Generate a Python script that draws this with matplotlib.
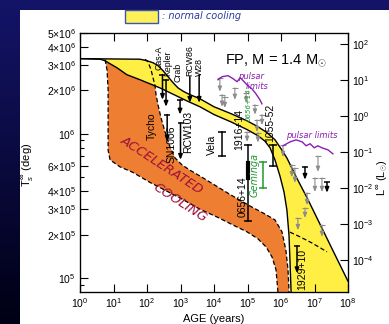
import numpy as np
import matplotlib
matplotlib.use('Agg')
import matplotlib.pyplot as plt
from matplotlib.patches import Rectangle
from matplotlib.colors import LinearSegmentedColormap
from matplotlib.ticker import FixedLocator, NullFormatter, FixedFormatter

plt.rcParams['font.family'] = ['Liberation Sans', 'DejaVu Sans']
plt.rcParams['mathtext.fontset'] = 'custom'
plt.rcParams['mathtext.rm'] = 'Liberation Sans'
plt.rcParams['mathtext.it'] = 'Liberation Sans:italic'
plt.rcParams['mathtext.bf'] = 'Liberation Sans:bold'

# ---------------- data ----------------
# normal cooling band (solid curves)
upper_age = [1, 62, 100, 151, 213, 300, 424, 600, 845, 1260, 1900, 3800, 1e4, 3.2e4,
             9.7e4, 2.05e5, 3.8e5, 6.6e5, 1.07e6, 1.5e6, 3.0e6, 6.0e6, 1.45e7, 3.6e7, 1e8]
upper_T = [3.32e6, 3.29e6, 3.21e6, 3.11e6, 2.97e6, 2.74e6, 2.49e6, 2.26e6, 2.08e6, 1.96e6,
           1.87e6, 1.75e6, 1.54e6, 1.38e6, 1.23e6, 1.12e6, 1.02e6, 9.1e5, 7.7e5, 6.8e5,
           4.9e5, 3.6e5, 2.37e5, 1.54e5, 9.5e4]
lower_age = [1, 4, 5.6, 7.9, 12.7, 25, 62, 245, 1560, 3800, 1e4, 3.2e4, 9.7e4, 2.05e5,
             3.3e5, 4.7e5, 6.6e5, 9.3e5, 1.23e6, 1.5e6, 1.73e6, 1.85e6, 2.0e6]
lower_T = [3.32e6, 3.29e6, 3.21e6, 3.06e6, 2.87e6, 2.57e6, 2.37e6, 2.08e6, 1.69e6, 1.54e6,
           1.36e6, 1.21e6, 1.07e6, 9.7e5, 8.9e5, 8.0e5, 6.6e5, 5.1e5, 3.95e5, 2.96e5,
           1.99e5, 1.33e5, 8.0e4]

# accelerated cooling band
acc_top_age = [5.6, 7.9, 12.7, 25, 62, 123, 174, 186, 213, 262, 346, 487, 686, 1100, 1900,
               3800, 1.07e4, 3.0e4, 1.18e5, 3.3e5, 6.6e5, 1.07e6, 1.4e6, 1.62e6, 1.74e6]
acc_top_T = [3.27e6, 3.06e6, 2.87e6, 2.57e6, 2.37e6, 2.22e6, 2.15e6, 1.87e6, 1.59e6, 1.29e6,
             1.03e6, 8.1e5, 6.8e5, 6.1e5, 5.6e5, 5.1e5, 4.4e5, 3.8e5, 3.16e5, 2.78e5,
             2.53e5, 2.09e5, 1.56e5, 1.14e5, 8.0e4]
acc_bot_age = [5.6, 6.4, 6.9, 6.9, 6.9, 7.9, 15.6, 38, 123, 394, 1180, 3800, 1.23e4, 3.7e4,
               9.7e4, 2.05e5, 3.6e5, 5.4e5, 7.1e5, 8.1e5]
acc_bot_T = [3.27e6, 2.78e6, 2.02e6, 1.25e6, 7.7e5, 6.6e5, 5.9e5, 5.4e5, 4.6e5, 4.0e5,
             3.5e5, 3.0e5, 2.65e5, 2.33e5, 2.09e5, 1.87e5, 1.64e5, 1.40e5, 1.14e5, 8.0e4]
cross_age = [87, 107, 132, 151, 174]
cross_T = [3.29e6, 3.16e6, 2.78e6, 2.45e6, 2.15e6]
rdash_age = [1.85e6, 3.7e6, 8.4e6, 2.36e7]
rdash_T = [2.08e5, 1.93e5, 1.75e5, 1.52e5]

# black upper limits: age, top (cap), arrow tip, has cap
blk_age = [290, 370, 970, 1900, 3600, 400, 1000, 3.0e6, 5.2e6, 2.36e7]
blk_top = [2.57e6, 2.37e6, 1.72e6, 2.49e6, 2.57e6, 1.36e6, 1.19e6, 1.67e5, 5.9e5, 4.6e5]
blk_tip = [1.72e6, 1.54e6, 1.36e6, 1.64e6, 1.64e6, 8.8e5, 6.6e5, 1.08e5, 4.8e5, 3.9e5]
blk_cap = [True, True, True, False, False, True, True, True, True, True]

# black error bars
eb_age = [1.74e4, 1.03e5, 5.8e5]
eb_lo = [7.0e5, 2.49e5, 6.0e5]
eb_hi = [1.03e6, 8.4e5, 8.4e5]
thick_age = [1.03e5]
thick_lo = [4.9e5]
thick_hi = [6.3e5]

# Geminga (green)
gem_age = [2.9e5]
gem_lo = [4.2e5]
gem_hi = [6.4e5]

# grey pulsar upper limits
gry_age = [1.5e4, 1.74e4, 2.1e4, 4.2e4, 9.1e4, 9.7e4, 1.67e5, 1.92e5, 2.7e5, 2.05e5,
           1.15e6, 2.1e6, 2.6e6, 1.27e7, 1.03e7, 1.67e7, 6.0e6, 5.2e6, 3.2e6, 1.67e7]
gry_top = [2.45e6, 1.87e6, 1.81e6, 2.08e6, 1.93e6, 1.03e6, 1.59e6, 1.25e6, 1.36e6, 1.02e6,
           8.3e5, 6.1e5, 5.8e5, 7.0e5, 4.95e5, 4.95e5, 3.9e5, 3.06e5, 2.61e5, 2.33e5]
gry_tip = [1.96e6, 1.54e6, 1.51e6, 1.72e6, 1.64e6, 8.8e5, 1.36e6, 1.03e6, 1.15e6, 8.7e5,
           6.9e5, 5.0e5, 4.57e5, 5.45e5, 3.95e5, 3.95e5, 3.2e5, 2.61e5, 2.15e5, 1.93e5]

# object labels (upper group smaller)
top_lab_text = ['Cas-A', 'Kepler', 'Crab', 'RCW86', 'W28']
top_lab_age = [225, 410, 850, 1900, 3600]
top_lab_T = [2.75e6, 2.53e6, 2.3e6, 2.53e6, 2.53e6]
lab_text = ['Tycho', 'SN1006', 'RCW103', 'Vela', '1916+14', '0656+14', '1055-52', '1929+10']
lab_age = [141, 560, 1660, 8700, 5.6e4, 7.4e4, 4.7e5, 4.2e6]
lab_T = [9.1e5, 6.3e5, 7.4e5, 7.1e5, 7.7e5, 2.65e5, 8.8e5, 8.3e4]

# hand-drawn purple "pulsar limits" squiggles (log10 age, log10 T)
wave1_la = [4.12, 4.24, 4.42, 4.57, 4.69, 4.78, 4.90, 5.01, 5.13, 5.25, 5.37, 5.43]
wave1_lT = [6.375, 6.396, 6.403, 6.382, 6.361, 6.389, 6.361, 6.333, 6.3125, 6.278, 6.236, 6.208]
wave2_la = [6.06, 6.27, 6.45, 6.63, 6.75, 6.87, 6.99, 7.10, 7.22, 7.40, 7.55]
wave2_lT = [5.917, 5.944, 5.958, 5.944, 5.917, 5.931, 5.903, 5.917, 5.903, 5.889, 5.861]

left_major = [1e5, 2e5, 3e5, 4e5, 6e5, 1e6, 2e6, 3e6, 4e6, 5e6]
left_labels = [r'$10^5$', r'$2{\times}10^5$', r'$3{\times}10^5$', r'$4{\times}10^5$',
               r'$6{\times}10^5$', r'$10^6$', r'$2{\times}10^6$', r'$3{\times}10^6$',
               r'$4{\times}10^6$', r'$5{\times}10^6$']
left_minor = [9e4, 5e5, 7e5, 8e5, 9e5]
T_range = (8.0e4, 5.0e6)
T_at_L1em4 = 10 ** 5.125   # temperature where L = 1e-4 Lsun

# ---------------- figure ----------------
W, H = 389, 324
fig = plt.figure(figsize=(W / 100, H / 100), dpi=100)

bg = fig.add_axes([0, 0, 1, 1], zorder=0)
grad = np.linspace(1, 0, 256).reshape(-1, 1)
cmap = LinearSegmentedColormap.from_list('bgc', [(0, 0, 20 / 255), (20 / 255, 20 / 255, 105 / 255)])
bg.imshow(grad, extent=[0, 1, 0, 1], aspect='auto', cmap=cmap, vmin=0, vmax=1)
bg.add_patch(Rectangle((20 / W, 0), 1, 1 - 10 / H, transform=bg.transAxes,
                       facecolor='white', edgecolor='none'))
# legend box
bg.add_patch(Rectangle((125 / W, 1 - 23 / H), 33 / W, 13 / H, transform=bg.transAxes,
                       facecolor='#FFF05A', edgecolor='#3a55b0', lw=1.0))
bg.text(162 / W, 1 - 16 / H, ': normal cooling', transform=bg.transAxes, color='#2a3a9a',
        fontsize=7, style='italic', family='DejaVu Sans', va='center', ha='left')
bg.set_xlim(0, 1); bg.set_ylim(0, 1)
bg.axis('off')

ax = fig.add_axes([80 / W, 32 / H, 268 / W, 259 / H], zorder=1)
ax.set_xscale('log'); ax.set_yscale('log')
ax.set_xlim(1, 1e8); ax.set_ylim(*T_range)

# yellow normal-cooling band
ya = np.concatenate([upper_age, [1e8], lower_age[::-1]])
yt = np.concatenate([upper_T, [T_range[0]], lower_T[::-1]])
ax.fill(ya, yt, color='#FFEE44', lw=0, zorder=1)
# orange accelerated-cooling band
oa = np.concatenate([acc_top_age, acc_bot_age[::-1]])
ot = np.concatenate([acc_top_T, acc_bot_T[::-1]])
ax.fill(oa, ot, color='#EE7E32', lw=0, zorder=2)

ax.plot(upper_age, upper_T, color='k', lw=1.0, zorder=3)
ax.plot(lower_age, lower_T, color='k', lw=1.0, zorder=3)
dash = dict(color='k', lw=0.9, dashes=(3.5, 2), zorder=3)
ax.plot(cross_age + acc_top_age[7:], cross_T + acc_top_T[7:], **dash)
ax.plot(acc_bot_age, acc_bot_T, **dash)
ax.plot(rdash_age, rdash_T, **dash)


def arrow(a, top, tip, color, lw, cap=True):
    ax.annotate('', xy=(a, tip), xytext=(a, top),
                arrowprops=dict(arrowstyle='-|>,head_width=0.12,head_length=0.3',
                                color=color, lw=lw, shrinkA=0, shrinkB=0), zorder=5)
    if cap:
        ax.plot([a], [top], marker='_', ms=5, mew=lw, color=color, zorder=5)


for a, t, p in zip(gry_age, gry_top, gry_tip):
    arrow(a, t, p, '#8c8c8c', 0.8)
for a, t, p, c in zip(blk_age, blk_top, blk_tip, blk_cap):
    arrow(a, t, p, 'k', 1.1, c)
for a, lo, hi in zip(eb_age, eb_lo, eb_hi):
    ax.plot([a, a], [lo, hi], color='k', lw=1.1, zorder=5)
    ax.plot([a, a], [lo, hi], ls='none', marker='_', ms=6, mew=1.1, color='k', zorder=5)
for a, lo, hi in zip(thick_age, thick_lo, thick_hi):
    ax.plot([a, a], [lo, hi], color='k', lw=3.0, zorder=5)
for a, lo, hi in zip(gem_age, gem_lo, gem_hi):
    ax.plot([a, a], [lo, hi], color='#1f9a30', lw=1.1, zorder=5)
    ax.plot([a, a], [lo, hi], ls='none', marker='_', ms=6, mew=1.1, color='#1f9a30', zorder=5)

for s, a, t in zip(top_lab_text, top_lab_age, top_lab_T):
    ax.text(a, t, s, rotation=90, ha='center', va='bottom', fontsize=6.3, zorder=6)
for s, a, t in zip(lab_text, lab_age, lab_T):
    ax.text(a, t, s, rotation=90, ha='center', va='bottom', fontsize=7.5, zorder=6)

# handwritten annotations
ax.text(1.67e5, 3.65e5, 'Geminga', rotation=90, ha='center', va='bottom', fontsize=7,
        color='#1f9a30', style='italic', family='DejaVu Sans', zorder=6)
ax.text(1.05e5, 1.22e6, '0656+14', rotation=90, ha='center', va='bottom', fontsize=5,
        color='#1f9a30', style='italic', family='DejaVu Sans', zorder=6)
ax.plot(10 ** np.array(wave1_la), 10 ** np.array(wave1_lT), color='#8a1fb0', lw=1.0, zorder=6)
ax.plot(10 ** np.array(wave2_la), 10 ** np.array(wave2_lT), color='#8a1fb0', lw=1.0, zorder=6)
ax.text(1.3e5, 2.49e6, 'pulsar', color='#8a1fb0', fontsize=6, style='italic',
        family='DejaVu Sans', ha='center', va='center', zorder=6)
ax.text(1.9e5, 2.12e6, 'limits', color='#8a1fb0', fontsize=6, style='italic',
        family='DejaVu Sans', ha='center', va='center', zorder=6)
ax.text(8.5e6, 9.8e5, 'pulsar limits', color='#8a1fb0', fontsize=6, style='italic',
        family='DejaVu Sans', ha='center', va='center', zorder=6)
ax.text(280, 6.1e5, 'ACCELERATED', color='#a0103c', fontsize=9.5, rotation=-33,
        ha='center', va='center', family='DejaVu Sans', style='italic', zorder=6)
ax.text(970, 3.3e5, 'COOLING', color='#a0103c', fontsize=9.5, rotation=-33,
        ha='center', va='center', family='DejaVu Sans', style='italic', zorder=6)

ax.text(2.1e4, 3.2e6, r'FP, M = 1.4 M$_{\odot}$', fontsize=10.5, ha='left', va='center', zorder=6)

# axes styling
ax.xaxis.set_major_locator(FixedLocator([10.0 ** k for k in range(9)]))
ax.xaxis.set_minor_locator(FixedLocator([]))
ax.set_xticklabels([r'$10^{%d}$' % k for k in range(9)])
ax.yaxis.set_major_locator(FixedLocator(left_major))
ax.yaxis.set_major_formatter(FixedFormatter(left_labels))
ax.yaxis.set_minor_locator(FixedLocator(left_minor))
ax.yaxis.set_minor_formatter(NullFormatter())
ax.tick_params(which='major', direction='in', length=6, width=0.8, labelsize=7.5,
               top=True, right=False, pad=3)
ax.tick_params(which='minor', direction='in', length=3, width=0.8, top=False, right=False)
for sp in ax.spines.values():
    sp.set_linewidth(0.9)

ax2 = ax.twinx()
ax2.set_zorder(2)
ax2.set_yscale('log')
ax2.set_ylim(1e-4 * (T_range[0] / T_at_L1em4) ** 4, 1e-4 * (T_range[1] / T_at_L1em4) ** 4)
ax2.yaxis.set_major_locator(FixedLocator([10.0 ** k for k in range(-4, 3)]))
ax2.yaxis.set_minor_locator(FixedLocator([]))
ax2.set_yticklabels([r'$10^{%d}$' % k for k in range(-4, 3)])
ax2.tick_params(direction='in', length=6, width=0.8, labelsize=7.5, pad=3)

ax.set_ylabel(r'T$_s^{\,\infty}$ (deg)', fontsize=8)
ax.yaxis.set_label_coords(-0.165, 0.49)
ax2.set_ylabel(r'L$^{\infty}$ (L$_{\odot}$)', fontsize=8, rotation=90, va='center')
ax2.yaxis.set_label_coords(1.128, 0.44)
ax.set_xlabel('AGE (years)', fontsize=8, va='center')
ax.xaxis.set_label_coords(0.5, -0.105)

fig.savefig('out.png', dpi=100)
